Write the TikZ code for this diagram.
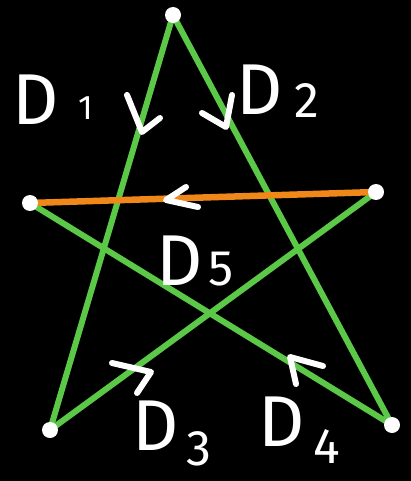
\documentclass[tikz,border=0pt]{standalone}
\usepackage{fontspec}
\setmainfont{Fira Sans}
\definecolor{starG}{RGB}{92,200,72}
\definecolor{starO}{RGB}{240,135,25}
\begin{document}
\begin{tikzpicture}[x=1pt,y=-1pt,
  edgeG/.style={draw=starG,line width=6pt,line cap=round},
  edgeO/.style={draw=starO,line width=6.5pt,line cap=round},
  chev/.style={draw=white,line width=6pt,line cap=round,line join=round},
  vdot/.style={circle,fill=white,minimum size=16pt,inner sep=0pt},
  lblD/.style={text=white,inner sep=0pt,anchor=base west,font=\fontsize{72}{72}\selectfont},
  lblN/.style={text=white,inner sep=0pt,anchor=base west,font=\fontsize{50}{50}\selectfont}]
\fill[black] (0,0) rectangle (411,481);
\useasboundingbox (0,0) rectangle (411,481);
\coordinate (T) at (173,15);
\coordinate (L) at (30,203);
\coordinate (R) at (376,192);
\coordinate (BL) at (50,430);
\coordinate (BR) at (392,425);
\draw[edgeG] (T) -- (BL);
\draw[edgeG] (T) -- (BR);
\draw[edgeG] (L) -- (BR);
\draw[edgeG] (R) -- (BL);
\draw[edgeO] (L) -- (R);
\node[vdot] (vT) at (T) {};
\node[vdot] (vL) at (L) {};
\node[vdot] (vR) at (R) {};
\node[vdot] (vBL) at (BL) {};
\node[vdot] (vBR) at (BR) {};
% direction chevrons
\draw[chev] (127,95) -- (142,132) -- (160,118);
\draw[chev] (202,113) -- (226,127) -- (232,95);
\draw[chev] (186,187) -- (166,200) -- (198,207);
\draw[chev] (112,363) -- (151,372) -- (137,393);
\draw[chev] (323,366) -- (290,357) -- (296,384);
% labels
\node[lblD] (d1) at (12,125) {D};
\node[lblN,font=\fontsize{34}{34}\selectfont] (n1) at (78,120) {1};
\node[lblD] (d2) at (236,115) {D};
\node[lblN] (n2) at (294,118) {2};
\node[lblD] (d5) at (156,285) {D};
\node[lblN] (n5) at (208,285) {5};
\node[lblD] (d3) at (132,450) {D};
\node[lblN] (n3) at (186,465) {3};
\node[lblD] (d4) at (258,446) {D};
\node[lblN] (n4) at (313,463) {4};
\end{tikzpicture}
\end{document}
